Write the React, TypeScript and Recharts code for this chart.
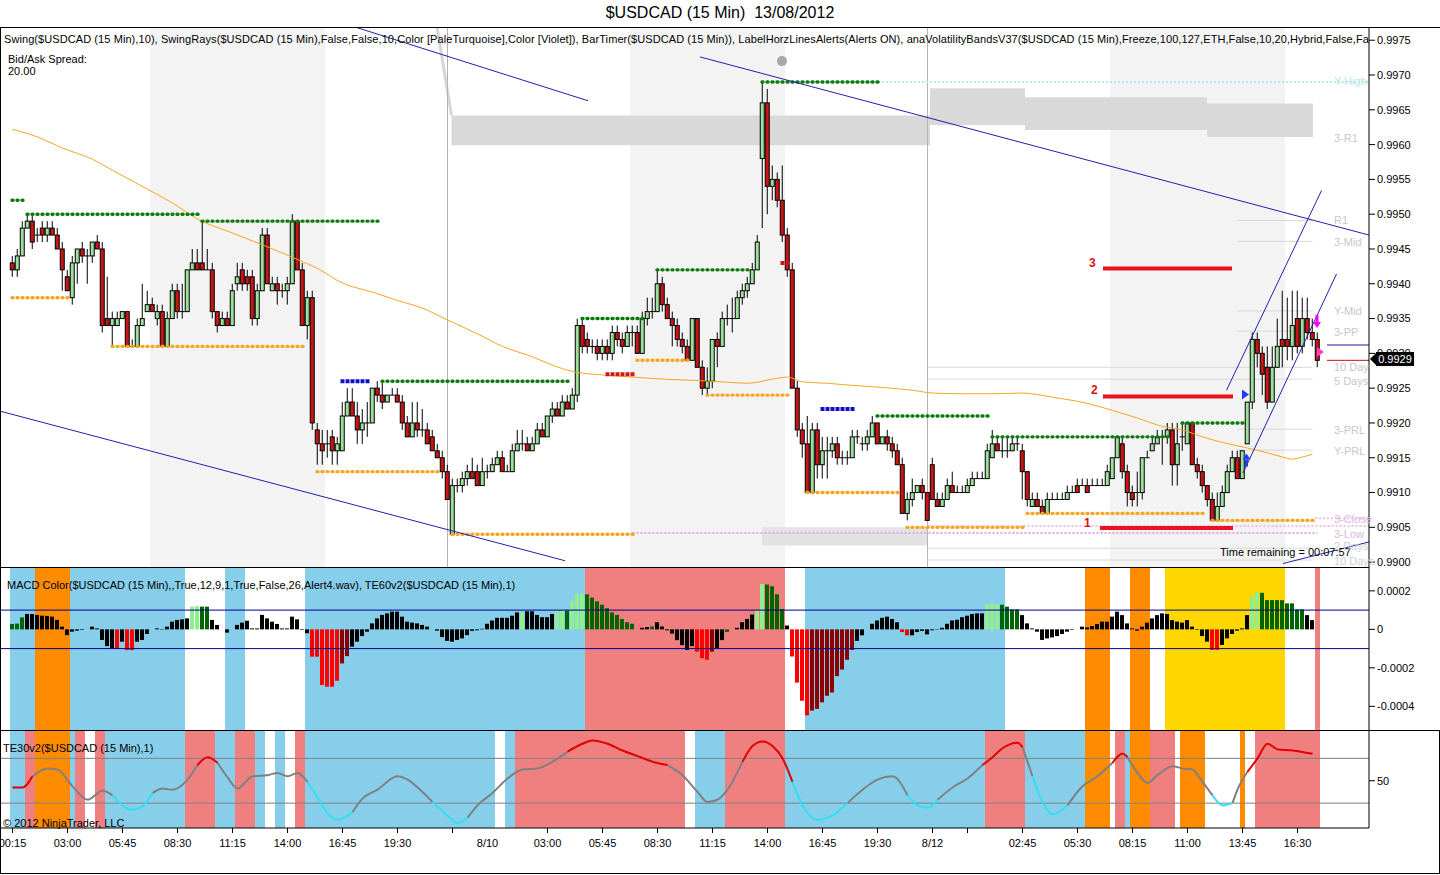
import React from 'react';
import {
  ComposedChart, Bar, Line, XAxis, YAxis, ReferenceArea, ReferenceLine, ReferenceDot, Cell,
} from 'recharts';

const FONT = '"Liberation Sans", Arial, Helvetica, sans-serif';

// ---------- x axis (bar index) ----------
const X_DOMAIN = [-2.5, 271.3];
const xTicks = [0, 11, 22, 33, 44, 55, 66, 77, 88, 95, 107, 118, 129, 140, 151, 162, 173, 184, 191, 202, 213, 224, 235, 246, 257];
const xTickLabels = ['00:15', '03:00', '05:45', '08:30', '11:15', '14:00', '16:45', '19:30', '', '8/10', '03:00', '05:45', '08:30', '11:15', '14:00', '16:45', '19:30', '8/12', '', '02:45', '05:30', '08:15', '11:00', '13:45', '16:30'];

// ---------- price panel ----------
const PRICE_DOMAIN = [0.98993, 0.99769];
const priceTicks = [0.99, 0.9905, 0.991, 0.9915, 0.992, 0.9925, 0.993, 0.9935, 0.994, 0.9945, 0.995, 0.9955, 0.996, 0.9965, 0.997, 0.9975];

const opens = [
  0.9943, 0.9942, 0.9944, 0.9948, 0.9949, 0.9947, 0.9948, 0.9947, 0.9948, 0.9947,
  0.9945, 0.9941, 0.9938, 0.9943, 0.9945, 0.9944, 0.9944, 0.9946, 0.9945, 0.9935,
  0.9934, 0.9934, 0.9935, 0.9936, 0.9931, 0.9931, 0.9934, 0.9936, 0.9937, 0.9935,
  0.9936, 0.9931, 0.9935, 0.9939, 0.9936, 0.9936, 0.9942, 0.9943, 0.9943, 0.9942,
  0.9942, 0.9936, 0.9934, 0.9935, 0.9934, 0.9940, 0.9942, 0.9941, 0.9941, 0.9935,
  0.9939, 0.9947, 0.9939, 0.9940, 0.9939, 0.9939, 0.9940, 0.9949, 0.9942, 0.9934,
  0.9938, 0.9919, 0.9917, 0.9917, 0.9918, 0.9916, 0.9916, 0.9921, 0.9923, 0.9921,
  0.9919, 0.9920, 0.9920, 0.9925, 0.9924, 0.9923, 0.9924, 0.9924, 0.9923, 0.9920,
  0.9918, 0.9920, 0.9919, 0.9919, 0.9918, 0.9916, 0.9915, 0.9913, 0.9904, 0.9911,
  0.9911, 0.9912, 0.9913, 0.9913, 0.9911, 0.9913, 0.9913, 0.9914, 0.9915, 0.9913,
  0.9913, 0.9916, 0.9917, 0.9917, 0.9916, 0.9917, 0.9919, 0.9918, 0.9921, 0.9922,
  0.9921, 0.9923, 0.9922, 0.9924, 0.9934, 0.9932, 0.9931, 0.9931, 0.9930, 0.9931,
  0.9930, 0.9933, 0.9932, 0.9931, 0.9933, 0.9933, 0.9930, 0.9935, 0.9936, 0.9936,
  0.9940, 0.9937, 0.9935, 0.9934, 0.9932, 0.9931, 0.9929, 0.9935, 0.9928, 0.9925,
  0.9926, 0.9932, 0.9931, 0.9935, 0.9935, 0.9935, 0.9938, 0.9939, 0.9940, 0.9942,
  0.9958, 0.9966, 0.9954, 0.9955, 0.9952, 0.9947, 0.9942, 0.9925, 0.9919, 0.9917,
  0.9910, 0.9919, 0.9914, 0.9916, 0.9916, 0.9917, 0.9915, 0.9915, 0.9915, 0.9918,
  0.9917, 0.9917, 0.9918, 0.9920, 0.9917, 0.9918, 0.9917, 0.9916, 0.9914, 0.9907,
  0.9909, 0.9910, 0.9911, 0.9910, 0.9914, 0.9909, 0.9908, 0.9909, 0.9911, 0.9910,
  0.9910, 0.9910, 0.9911, 0.9912, 0.9912, 0.9912, 0.9915, 0.9917, 0.9916, 0.9916,
  0.9916, 0.9917, 0.9916, 0.9913, 0.9908, 0.9909, 0.9908, 0.9907, 0.9909, 0.9909,
  0.9909, 0.9909, 0.9910, 0.9911, 0.9911, 0.9911, 0.9911, 0.9911, 0.9911, 0.9911,
  0.9912, 0.9915, 0.9917, 0.9913, 0.9910, 0.9910, 0.9910, 0.9915, 0.9916, 0.9917,
  0.9918, 0.9918, 0.9919, 0.9914, 0.9918, 0.9917, 0.9920, 0.9914, 0.9913, 0.9911,
  0.9909, 0.9906, 0.9908, 0.9910, 0.9913, 0.9915, 0.9912, 0.9917, 0.9923, 0.9932,
  0.9930, 0.9928, 0.9923, 0.9928, 0.9932, 0.9932, 0.9931, 0.9935, 0.9931, 0.9935,
  0.9933, 0.9932,
];
const highs = [
  0.9944, 0.9945, 0.9949, 0.9950, 0.9950, 0.9948, 0.9949, 0.9949, 0.9949, 0.9948,
  0.9946, 0.9942, 0.9944, 0.9945, 0.9946, 0.9945, 0.9946, 0.9947, 0.9946, 0.9941,
  0.9936, 0.9936, 0.9936, 0.9936, 0.9932, 0.9935, 0.9940, 0.9939, 0.9938, 0.9937,
  0.9937, 0.9936, 0.9940, 0.9940, 0.9940, 0.9942, 0.9945, 0.9945, 0.9949, 0.9945,
  0.9943, 0.9936, 0.9936, 0.9936, 0.9940, 0.9943, 0.9943, 0.9942, 0.9942, 0.9940,
  0.9948, 0.9948, 0.9941, 0.9941, 0.9940, 0.9941, 0.9950, 0.9949, 0.9943, 0.9939,
  0.9939, 0.9920, 0.9919, 0.9919, 0.9919, 0.9918, 0.9923, 0.9925, 0.9925, 0.9923,
  0.9922, 0.9923, 0.9925, 0.9926, 0.9926, 0.9924, 0.9925, 0.9925, 0.9924, 0.9921,
  0.9923, 0.9923, 0.9922, 0.9920, 0.9919, 0.9917, 0.9916, 0.9914, 0.9912, 0.9912,
  0.9913, 0.9914, 0.9915, 0.9914, 0.9915, 0.9914, 0.9915, 0.9916, 0.9916, 0.9914,
  0.9917, 0.9919, 0.9919, 0.9918, 0.9918, 0.9920, 0.9920, 0.9921, 0.9923, 0.9923,
  0.9924, 0.9924, 0.9925, 0.9935, 0.9935, 0.9933, 0.9932, 0.9932, 0.9932, 0.9932,
  0.9934, 0.9934, 0.9933, 0.9934, 0.9934, 0.9934, 0.9936, 0.9938, 0.9938, 0.9942,
  0.9941, 0.9938, 0.9936, 0.9935, 0.9933, 0.9932, 0.9935, 0.9935, 0.9929, 0.9928,
  0.9932, 0.9933, 0.9936, 0.9937, 0.9938, 0.9939, 0.9940, 0.9941, 0.9943, 0.9947,
  0.9969, 0.9968, 0.9957, 0.9956, 0.9957, 0.9948, 0.9943, 0.9926, 0.9920, 0.9921,
  0.9920, 0.9920, 0.9918, 0.9918, 0.9918, 0.9918, 0.9916, 0.9916, 0.9919, 0.9919,
  0.9918, 0.9919, 0.9921, 0.9920, 0.9918, 0.9919, 0.9918, 0.9917, 0.9915, 0.9910,
  0.9912, 0.9911, 0.9912, 0.9910, 0.9915, 0.9910, 0.9910, 0.9912, 0.9913, 0.9911,
  0.9911, 0.9912, 0.9913, 0.9913, 0.9913, 0.9917, 0.9919, 0.9918, 0.9918, 0.9918,
  0.9918, 0.9918, 0.9917, 0.9913, 0.9910, 0.9910, 0.9909, 0.9910, 0.9910, 0.9910,
  0.9910, 0.9911, 0.9911, 0.9912, 0.9912, 0.9912, 0.9912, 0.9912, 0.9912, 0.9914,
  0.9915, 0.9918, 0.9918, 0.9914, 0.9911, 0.9913, 0.9915, 0.9916, 0.9918, 0.9919,
  0.9919, 0.9920, 0.9920, 0.9920, 0.9920, 0.9920, 0.9920, 0.9915, 0.9914, 0.9911,
  0.9910, 0.9910, 0.9911, 0.9914, 0.9916, 0.9916, 0.9916, 0.9923, 0.9933, 0.9933,
  0.9931, 0.9931, 0.9931, 0.9935, 0.9939, 0.9938, 0.9939, 0.9939, 0.9938, 0.9938,
  0.9935, 0.9933,
];
const lows = [
  0.9941, 0.9941, 0.9944, 0.9948, 0.9945, 0.9946, 0.9946, 0.9946, 0.9947, 0.9945,
  0.9939, 0.9939, 0.9937, 0.9940, 0.9943, 0.9940, 0.9943, 0.9945, 0.9933, 0.9934,
  0.9931, 0.9934, 0.9935, 0.9931, 0.9931, 0.9931, 0.9934, 0.9936, 0.9936, 0.9934,
  0.9931, 0.9931, 0.9935, 0.9935, 0.9935, 0.9936, 0.9942, 0.9942, 0.9942, 0.9942,
  0.9935, 0.9933, 0.9934, 0.9934, 0.9934, 0.9939, 0.9939, 0.9939, 0.9934, 0.9934,
  0.9939, 0.9940, 0.9939, 0.9937, 0.9938, 0.9937, 0.9940, 0.9942, 0.9934, 0.9932,
  0.9919, 0.9914, 0.9914, 0.9915, 0.9914, 0.9914, 0.9916, 0.9921, 0.9921, 0.9917,
  0.9917, 0.9918, 0.9920, 0.9923, 0.9922, 0.9923, 0.9924, 0.9923, 0.9919, 0.9918,
  0.9918, 0.9918, 0.9918, 0.9917, 0.9916, 0.9915, 0.9912, 0.9909, 0.9904, 0.9910,
  0.9910, 0.9911, 0.9912, 0.9911, 0.9911, 0.9912, 0.9913, 0.9914, 0.9913, 0.9913,
  0.9913, 0.9916, 0.9916, 0.9916, 0.9916, 0.9917, 0.9918, 0.9918, 0.9920, 0.9921,
  0.9921, 0.9922, 0.9922, 0.9923, 0.9930, 0.9930, 0.9930, 0.9929, 0.9929, 0.9929,
  0.9929, 0.9931, 0.9930, 0.9931, 0.9931, 0.9930, 0.9930, 0.9934, 0.9935, 0.9936,
  0.9936, 0.9935, 0.9931, 0.9931, 0.9930, 0.9929, 0.9929, 0.9928, 0.9924, 0.9924,
  0.9925, 0.9928, 0.9931, 0.9934, 0.9933, 0.9935, 0.9937, 0.9938, 0.9940, 0.9942,
  0.9948, 0.9950, 0.9952, 0.9951, 0.9946, 0.9941, 0.9925, 0.9918, 0.9915, 0.9910,
  0.9910, 0.9912, 0.9912, 0.9912, 0.9915, 0.9914, 0.9914, 0.9914, 0.9915, 0.9917,
  0.9916, 0.9916, 0.9918, 0.9917, 0.9917, 0.9916, 0.9915, 0.9914, 0.9907, 0.9906,
  0.9908, 0.9910, 0.9909, 0.9906, 0.9909, 0.9908, 0.9908, 0.9909, 0.9910, 0.9910,
  0.9910, 0.9910, 0.9911, 0.9912, 0.9912, 0.9912, 0.9915, 0.9916, 0.9915, 0.9915,
  0.9916, 0.9916, 0.9909, 0.9908, 0.9908, 0.9908, 0.9907, 0.9907, 0.9909, 0.9909,
  0.9909, 0.9909, 0.9910, 0.9910, 0.9911, 0.9910, 0.9911, 0.9911, 0.9911, 0.9911,
  0.9912, 0.9915, 0.9912, 0.9908, 0.9908, 0.9908, 0.9909, 0.9915, 0.9916, 0.9917,
  0.9914, 0.9917, 0.9911, 0.9911, 0.9916, 0.9917, 0.9914, 0.9912, 0.9910, 0.9908,
  0.9906, 0.9906, 0.9908, 0.9910, 0.9913, 0.9912, 0.9912, 0.9917, 0.9922, 0.9928,
  0.9924, 0.9922, 0.9923, 0.9928, 0.9928, 0.9929, 0.9929, 0.9930, 0.9930, 0.9932,
  0.9931, 0.9928,
];
const closes = [
  0.9942, 0.9944, 0.9948, 0.9949, 0.9946, 0.9947, 0.9947, 0.9948, 0.9947, 0.9945,
  0.9942, 0.9939, 0.9943, 0.9945, 0.9944, 0.9944, 0.9946, 0.9945, 0.9934, 0.9934,
  0.9935, 0.9935, 0.9936, 0.9931, 0.9931, 0.9934, 0.9935, 0.9937, 0.9936, 0.9936,
  0.9931, 0.9935, 0.9939, 0.9936, 0.9936, 0.9942, 0.9943, 0.9942, 0.9942, 0.9942,
  0.9936, 0.9934, 0.9935, 0.9934, 0.9939, 0.9941, 0.9940, 0.9940, 0.9935, 0.9939,
  0.9947, 0.9940, 0.9940, 0.9939, 0.9939, 0.9940, 0.9949, 0.9942, 0.9934, 0.9938,
  0.9920, 0.9917, 0.9916, 0.9917, 0.9916, 0.9917, 0.9921, 0.9923, 0.9921, 0.9919,
  0.9920, 0.9920, 0.9925, 0.9924, 0.9923, 0.9924, 0.9924, 0.9923, 0.9920, 0.9918,
  0.9920, 0.9919, 0.9919, 0.9917, 0.9916, 0.9915, 0.9913, 0.9909, 0.9911, 0.9911,
  0.9912, 0.9913, 0.9912, 0.9911, 0.9913, 0.9913, 0.9914, 0.9915, 0.9913, 0.9913,
  0.9916, 0.9917, 0.9917, 0.9916, 0.9917, 0.9919, 0.9918, 0.9921, 0.9922, 0.9921,
  0.9923, 0.9922, 0.9924, 0.9934, 0.9931, 0.9931, 0.9931, 0.9930, 0.9931, 0.9930,
  0.9933, 0.9932, 0.9931, 0.9933, 0.9933, 0.9930, 0.9935, 0.9936, 0.9936, 0.9940,
  0.9937, 0.9935, 0.9934, 0.9932, 0.9931, 0.9929, 0.9935, 0.9928, 0.9925, 0.9926,
  0.9932, 0.9931, 0.9935, 0.9935, 0.9935, 0.9938, 0.9939, 0.9940, 0.9942, 0.9946,
  0.9966, 0.9954, 0.9955, 0.9952, 0.9947, 0.9942, 0.9925, 0.9919, 0.9917, 0.9910,
  0.9919, 0.9914, 0.9916, 0.9916, 0.9917, 0.9915, 0.9915, 0.9915, 0.9918, 0.9918,
  0.9917, 0.9918, 0.9920, 0.9917, 0.9918, 0.9917, 0.9916, 0.9914, 0.9907, 0.9909,
  0.9910, 0.9911, 0.9910, 0.9906, 0.9909, 0.9908, 0.9909, 0.9911, 0.9910, 0.9910,
  0.9910, 0.9911, 0.9912, 0.9912, 0.9912, 0.9916, 0.9917, 0.9916, 0.9916, 0.9916,
  0.9917, 0.9917, 0.9913, 0.9909, 0.9909, 0.9908, 0.9907, 0.9909, 0.9909, 0.9909,
  0.9909, 0.9910, 0.9910, 0.9910, 0.9911, 0.9910, 0.9911, 0.9911, 0.9911, 0.9913,
  0.9915, 0.9918, 0.9913, 0.9910, 0.9909, 0.9910, 0.9915, 0.9915, 0.9917, 0.9918,
  0.9918, 0.9919, 0.9914, 0.9917, 0.9918, 0.9920, 0.9914, 0.9913, 0.9911, 0.9909,
  0.9906, 0.9908, 0.9910, 0.9913, 0.9915, 0.9912, 0.9916, 0.9923, 0.9932, 0.9930,
  0.9927, 0.9923, 0.9928, 0.9931, 0.9931, 0.9931, 0.9934, 0.9931, 0.9935, 0.9933,
  0.9932, 0.9929,
];

// moving average (orange), sampled along the curve
const smaBars = [0, 5, 10, 16, 20, 27, 32, 37, 44, 51, 57, 61, 66, 72, 77, 82, 87, 93, 98, 104, 108, 112, 118, 124, 130, 137, 142, 147, 152, 155, 158, 163, 168, 174, 180, 184, 190, 196, 202, 208, 215, 220, 225, 230, 234, 238, 242, 247, 251, 254, 256, 258, 260];
const smaValues = [0.99622, 0.99611, 0.99595, 0.99579, 0.99563, 0.99536, 0.99516, 0.99493, 0.99473, 0.99453, 0.99435, 0.99422, 0.99401, 0.99388, 0.99376, 0.99365, 0.99348, 0.99328, 0.9931, 0.99295, 0.99283, 0.99274, 0.99269, 0.99266, 0.99263, 0.99261, 0.99259, 0.99257, 0.99263, 0.99266, 0.99259, 0.99257, 0.99254, 0.99251, 0.99247, 0.99243, 0.99242, 0.99242, 0.99243, 0.99237, 0.99228, 0.99218, 0.99207, 0.99195, 0.9919, 0.9918, 0.99172, 0.99164, 0.99157, 0.99151, 0.99148, 0.99151, 0.99155];

// swing rays: [startBar, endBar, price]
const swingHighs = [[0, 2, 0.9952], [3, 37, 0.995], [38, 73, 0.9949], [74, 111, 0.9926], [114, 126, 0.9935], [129, 147, 0.9942], [150, 173, 0.9969], [173, 195, 0.9921], [196, 231, 0.9918], [234, 246, 0.992]];
const swingLows = [[0, 11, 0.9938], [20, 58, 0.9931], [61, 85, 0.9913], [88, 124, 0.9904], [125, 135, 0.9929], [139, 155, 0.9924], [159, 177, 0.991], [179, 202, 0.9905], [203, 238, 0.9907], [240, 260, 0.9906]];
const blueMarks = [[66, 71, 0.9926], [162, 168, 0.9922]];
const redMarks = [[119, 124, 0.9927], [154, 155, 0.9943]];

// trend / channel lines: [x1, y1, x2, y2]
const trendLines = [
  [-2.5, 0.99217, 110.5, 0.99002],
  [68.5, 0.99769, 115.1, 0.99663],
  [137.5, 0.99726, 271.3, 0.9947],
  [242.8, 0.99247, 261.8, 0.99534],
  [246.1, 0.99128, 264.8, 0.99414],
  [254.1, 0.98998, 271.3, 0.99029],
];
// numbered red levels: [x1, x2, price]
const redLevels = [[218.1, 243.9, 0.99422], [218.1, 244.1, 0.99238], [217.5, 244.1, 0.99049]];
// faint pivot lines: [x1, x2, price]
const pivotLines = [[244.9, 260, 0.99491], [244.9, 260, 0.99461], [244.9, 260, 0.99361], [244.9, 260, 0.99332], [183, 260, 0.9928], [183, 260, 0.99263], [244.9, 260, 0.99191], [244.9, 260, 0.99161], [183, 260, 0.9902], [183, 260, 0.99003]];
const sessionShades = [[27.5, 62.5], [123.5, 154.5], [219.5, 254.5]];
// volatility band boxes: [x1, x2, low, high]
const volBands = [[87.8, 183.5, 0.99599, 0.99642], [183.5, 202.5, 0.99628, 0.99681], [202.5, 238.9, 0.99621, 0.99668], [238.9, 260.1, 0.99611, 0.99659], [149.9, 183, 0.99024, 0.9905]];
const dateLines = [87, 183];

// ---------- MACD panel ----------
const MACD_DOMAIN = [-0.000523, 0.000324];
const macdTicks = [-0.0004, -0.0002, 0, 0.0002];
const macdValues = [
  28e-6, 30e-6, 62e-6, 80e-6, 80e-6, 75e-6, 71e-6, 70e-6, 66e-6, 49e-6,
  14e-6, -30e-6, -12e-6, -7e-6, -3e-6, 0, 14e-6, 5e-6, -55e-6, -87e-6,
  -100e-6, -100e-6, -64e-6, -108e-6, -108e-6, -64e-6, -55e-6, -24e-6, 0, 5e-6,
  -2e-6, 14e-6, 40e-6, 49e-6, 52e-6, 57e-6, 118e-6, 120e-6, 118e-6, 118e-6,
  49e-6, 23e-6, 0, -17e-6, 0, 23e-6, 35e-6, 45e-6, 5e-6, 5e-6,
  75e-6, 57e-6, 40e-6, 28e-6, 5e-6, 5e-6, 66e-6, 52e-6, -3e-6, -20e-6,
  -142e-6, -142e-6, -289e-6, -298e-6, -298e-6, -267e-6, -177e-6, -139e-6, -90e-6, -64e-6,
  -35e-6, -12e-6, 31e-6, 57e-6, 75e-6, 83e-6, 92e-6, 92e-6, 66e-6, 40e-6,
  35e-6, 31e-6, 23e-6, 14e-6, 0, -7e-6, -40e-6, -60e-6, -64e-6, -55e-6,
  -47e-6, -30e-6, -8e-6, -5e-6, 3e-6, 29e-6, 46e-6, 60e-6, 60e-6, 60e-6,
  71e-6, 88e-6, 88e-6, 94e-6, 94e-6, 75e-6, 63e-6, 63e-6, 80e-6, 94e-6,
  94e-6, 97e-6, 150e-6, 185e-6, 185e-6, 182e-6, 165e-6, 145e-6, 128e-6, 110e-6,
  88e-6, 75e-6, 54e-6, 37e-6, 29e-6, 0, 8e-6, 12e-6, 15e-6, 37e-6,
  15e-6, -5e-6, -22e-6, -56e-6, -82e-6, -107e-6, -87e-6, -116e-6, -150e-6, -158e-6,
  -116e-6, -99e-6, -56e-6, -14e-6, 0, 8e-6, 37e-6, 54e-6, 77e-6, 100e-6,
  236e-6, 233e-6, 224e-6, 182e-6, 105e-6, 20e-6, -141e-6, -277e-6, -371e-6, -447e-6,
  -422e-6, -413e-6, -379e-6, -345e-6, -328e-6, -243e-6, -209e-6, -158e-6, -107e-6, -60e-6,
  -31e-6, 0, 29e-6, 46e-6, 60e-6, 66e-6, 54e-6, 37e-6, -14e-6, -31e-6,
  -31e-6, -14e-6, -8e-6, -26e-6, -5e-6, -2e-6, 8e-6, 29e-6, 46e-6, 50e-6,
  63e-6, 71e-6, 80e-6, 83e-6, 83e-6, 131e-6, 131e-6, 131e-6, 128e-6, 118e-6,
  104e-6, 104e-6, 74e-6, 31e-6, 5e-6, -12e-6, -55e-6, -47e-6, -42e-6, -35e-6,
  -24e-6, -12e-6, -3e-6, 0, 14e-6, 10e-6, 17e-6, 28e-6, 40e-6, 40e-6,
  66e-6, 92e-6, 74e-6, 31e-6, 5e-6, -7e-6, 14e-6, 35e-6, 57e-6, 74e-6,
  83e-6, 80e-6, 48e-6, 40e-6, 35e-6, 48e-6, 14e-6, -3e-6, -35e-6, -64e-6,
  -107e-6, -107e-6, -81e-6, -47e-6, -24e-6, -7e-6, 5e-6, 74e-6, 170e-6, 195e-6,
  190e-6, 152e-6, 152e-6, 152e-6, 152e-6, 135e-6, 135e-6, 104e-6, 104e-6, 74e-6,
  48e-6, 0,
];
const macdColorCodes =
  'gggkkkkkkk' + 'kkkkkkkkkk' + 'krkrrkkkkk' + 'kkkkkkllgg' + 'kkkkkkkkkk' +
  'kkkkkkkkkk' + 'rrrrrrddkk' + 'kkkkkkkkkk' + 'kkkkkkkkkk' + 'kkkkkkkkkk' +
  'kklkkkkkkl' + 'lglllggggg' + 'gggggkkkgk' + 'kkkkkkkrrr' + 'dkkgkkkkkl' +
  'lggggkrrrr' + 'dddddddddk' + 'kkkkkkkkrr' + 'kkkkkkkkkk' + 'kkkkklllgg' +
  'ggkkkkkkkk' + 'kkkkkkkkkk' + 'kkkkkkkkkk' + 'kkkkkkkkkk' + 'rrkkkkkkll' +
  'gggggggggk' + 'kk';
const MACD_COLORS = { k: '#000000', g: '#006400', l: '#90EE90', r: '#FF0000', d: '#8B0000' };
// background bands of the MACD panel: [x1, x2, color]
const macdBands = [
  [-0.5, 4.5, '#87CEEB'], [4.5, 11.5, '#FF8C00'], [11.5, 34.5, '#87CEEB'], [42.5, 46.5, '#87CEEB'],
  [58.5, 114.5, '#87CEEB'], [114.5, 154.5, '#F08080'], [158.5, 198.5, '#87CEEB'], [214.5, 219.5, '#FF8C00'],
  [223.5, 227.5, '#FF8C00'], [230.5, 254.5, '#FFD700'], [260.5, 261.5, '#F08080'],
];

// ---------- TE30 panel ----------
const TE_DOMAIN = [7.8, 95.3];
const teBars = [0, 2, 4, 7, 9, 12, 15, 18, 20, 22, 24, 26, 28, 30, 32, 35, 37, 39, 41, 43, 45, 48, 51, 53, 55, 57, 59, 61, 63, 65, 68, 70, 73, 77, 79, 82, 84, 87, 89, 91, 93, 96, 99, 102, 105, 108, 111, 114, 116, 119, 122, 125, 128, 131, 134, 137, 139, 141, 143, 146, 148, 150, 152, 154, 156, 158, 161, 164, 167, 170, 173, 176, 179, 181, 183, 185, 188, 191, 194, 196, 198, 201, 202, 204, 206, 208, 211, 214, 217, 220, 222, 223, 225, 227, 229, 232, 234, 236, 238, 240, 242, 244, 245, 247, 249, 251, 253, 256, 260];
const teValues = [44, 44, 54, 61, 60, 45, 33, 41, 37, 28, 24, 27, 39, 43, 42, 51, 64, 71, 66, 53, 43, 54, 55, 57, 54, 57, 49, 35, 21, 15, 22, 34, 42, 54, 51, 40, 31, 19, 12, 17, 28, 39, 52, 60, 61, 67, 76, 83, 86, 83, 77, 72, 67, 64, 55, 40, 31, 33, 42, 67, 81, 85, 81, 70, 49, 28, 15, 19, 30, 42, 51, 54, 37, 28, 26, 33, 44, 52, 64, 71, 79, 84, 80, 54, 31, 20, 28, 45, 54, 66, 74, 71, 57, 48, 55, 63, 61, 60, 49, 37, 28, 30, 42, 58, 70, 83, 78, 77, 74];
const teRedRanges = [[0, 4], [37, 41], [112, 131], [147, 155], [194, 202], [220, 223], [248, 260]];
const teCyanRanges = [[21, 27], [60, 68], [84, 91], [157, 167], [180, 184], [205, 211], [241, 244]];
const teBands = [
  [-0.5, 2.5, '#87CEEB'], [2.5, 4.5, '#F08080'], [4.5, 11.5, '#FF8C00'], [11.5, 12.5, '#87CEEB'],
  [12.5, 14.5, '#F08080'], [16.5, 18.5, '#F08080'], [18.5, 34.5, '#87CEEB'], [34.5, 40.5, '#F08080'],
  [40.5, 44.5, '#87CEEB'], [44.5, 48.5, '#F08080'], [48.5, 50.5, '#87CEEB'], [52.5, 54.5, '#87CEEB'],
  [56.5, 58.5, '#F08080'], [58.5, 96.5, '#87CEEB'], [98.5, 100.5, '#87CEEB'], [100.5, 134.5, '#F08080'],
  [136.5, 142.5, '#87CEEB'], [142.5, 154.5, '#F08080'], [154.5, 194.5, '#87CEEB'], [194.5, 202.5, '#F08080'],
  [202.5, 214.5, '#87CEEB'], [214.5, 219.5, '#FF8C00'], [220.5, 222.5, '#F08080'], [222.5, 223.5, '#87CEEB'],
  [223.5, 227.5, '#FF8C00'], [227.5, 232.5, '#F08080'], [233.5, 238.5, '#FF8C00'], [245.5, 246.5, '#FF8C00'],
  [248.5, 261.5, '#F08080'],
];

// ---------- derived tables ----------
const smaByBar = new Map(smaBars.map((b, k) => [b, smaValues[k]]));
const priceRows = opens.map((o, i) => ({
  i, o, h: highs[i], l: lows[i], c: closes[i],
  range: [lows[i], highs[i]],
  sma: smaByBar.has(i) ? smaByBar.get(i) : null,
}));
const macdRows = macdValues.map((m, i) => ({ i, m }));

const inRanges = (v, ranges) => ranges.some(([a, b]) => v >= a && v <= b);
const segColor = (k) => {
  const mid = (teBars[k] + teBars[k + 1]) / 2;
  if (inRanges(mid, teRedRanges)) return 'red';
  if (inRanges(mid, teCyanRanges)) return 'cyan';
  return 'gray';
};
const teRows = teBars.map((b, k) => {
  const prev = k > 0 ? segColor(k - 1) : null;
  const next = k < teBars.length - 1 ? segColor(k) : null;
  const v = teValues[k];
  return {
    i: b,
    gray: prev === 'gray' || next === 'gray' ? v : null,
    red: prev === 'red' || next === 'red' ? v : null,
    cyan: prev === 'cyan' || next === 'cyan' ? v : null,
  };
});

// ---------- shapes ----------
function Candle(props) {
  const { x, y, width, height, payload } = props;
  if (x == null || y == null || !payload) return null;
  const { o, h, l, c } = payload;
  const top = Math.min(y, y + height);
  const span = Math.abs(height);
  const cx = x + width / 2;
  const rng = h - l;
  const py = (v) => (rng > 0 ? top + ((h - v) / rng) * span : top);
  const yo = py(o);
  const yc = py(c);
  const bTop = Math.min(yo, yc);
  const bH = Math.abs(yo - yc);
  return (
    <g>
      <line x1={cx} x2={cx} y1={top} y2={top + span} stroke="#000" strokeWidth={1} />
      {bH < 0.5 ? (
        <line x1={cx - 2.5} x2={cx + 2.5} y1={yo} y2={yo} stroke="#000" strokeWidth={1} />
      ) : (
        <rect x={cx - 2} y={bTop} width={4} height={bH} fill={c > o ? '#9CE09C' : '#C81414'} stroke="#000" strokeWidth={1} />
      )}
    </g>
  );
}

function XTick(props) {
  const { x, y, payload } = props;
  const idx = xTicks.indexOf(payload.value);
  const label = idx >= 0 ? xTickLabels[idx] : '';
  return (
    <g>
      {label !== '8/10' && <line x1={x} x2={x} y1={y} y2={y + 5} stroke="#000" />}
      <text x={x} y={y + 19} textAnchor="middle" fontSize={11} fontFamily={FONT} fill="#000">{label}</text>
    </g>
  );
}

const tickStyle = { fontSize: 11, fill: '#000', fontFamily: FONT };

function Txt({ x, y, size = 11, color = '#000', bold = false, children, spacing }) {
  return (
    <div style={{
      position: 'absolute', left: x, top: y - size / 2 - 1, fontSize: size, lineHeight: `${size + 2}px`,
      color, fontWeight: bold ? 'bold' : 'normal', fontFamily: FONT, whiteSpace: 'nowrap', letterSpacing: spacing,
    }}>{children}</div>
  );
}

const HLine = ({ x, y, w }) => <div style={{ position: 'absolute', left: x, top: y, width: w, height: 1, background: '#000' }} />;
const VLine = ({ x, y, h }) => <div style={{ position: 'absolute', left: x, top: y, width: 1, height: h, background: '#000' }} />;

const triRight = (color) => (p) => <polygon points={`${p.cx - 3},${p.cy - 5} ${p.cx + 4},${p.cy} ${p.cx - 3},${p.cy + 5}`} fill={color} />;
const arrowUp = (color) => (p) => (
  <g>
    <polygon points={`${p.cx},${p.cy - 7} ${p.cx + 4},${p.cy - 1} ${p.cx - 4},${p.cy - 1}`} fill={color} />
    <rect x={p.cx - 1.5} y={p.cy - 1} width={3} height={7} fill={color} />
  </g>
);
const arrowDown = (color) => (p) => (
  <g>
    <rect x={p.cx - 1.5} y={p.cy - 7} width={3} height={7} fill={color} />
    <polygon points={`${p.cx},${p.cy + 6} ${p.cx + 4},${p.cy} ${p.cx - 4},${p.cy}`} fill={color} />
  </g>
);

const abs = (top, h) => ({ position: 'absolute', left: 0, top, width: 1440, height: h });

export default function App() {
  const xAxisHidden = <XAxis dataKey="i" type="number" domain={X_DOMAIN} hide allowDataOverflow />;
  return (
    <div style={{ position: 'absolute', left: 0, top: 0, width: 1440, height: 875, background: '#fff', overflow: 'hidden', fontFamily: FONT }}>
      {/* ===== price panel background ===== */}
      <div style={abs(27, 540)}>
        <ComposedChart width={1440} height={540} data={priceRows} margin={{ top: 0, right: 71, bottom: 0, left: 0 }}>
          {xAxisHidden}
          <YAxis type="number" domain={PRICE_DOMAIN} hide allowDataOverflow />
          {sessionShades.map(([a, b], k) => (
            <ReferenceArea key={`s${k}`} x1={a} x2={b} fill="#F3F3F3" fillOpacity={1} stroke="none" ifOverflow="hidden" />
          ))}
          {volBands.map(([a, b, lo, hi], k) => (
            <ReferenceArea key={`v${k}`} x1={a} x2={b} y1={lo} y2={hi} fill={k === 4 ? '#E2E2E2' : '#D9D9D9'} fillOpacity={1} stroke="none" ifOverflow="hidden" />
          ))}
          <ReferenceLine segment={[{ x: 84.9, y: 0.99769 }, { x: 87.8, y: 0.99642 }]} stroke="#D6D6D6" strokeWidth={3} ifOverflow="visible" />
          {dateLines.map((d) => <ReferenceLine key={`d${d}`} x={d} stroke="#B4B4B4" strokeWidth={1} />)}
          {pivotLines.map(([a, b, p], k) => (
            <ReferenceLine key={`p${k}`} segment={[{ x: a, y: p }, { x: b, y: p }]} stroke="#D8D8D8" strokeWidth={1} ifOverflow="visible" />
          ))}
          <ReferenceLine segment={[{ x: 151.5, y: 0.9969 }, { x: 271.3, y: 0.9969 }]} stroke="#AFEEEE" strokeWidth={2} strokeDasharray="2 2" ifOverflow="visible" />
          <ReferenceLine segment={[{ x: 124, y: 0.99042 }, { x: 261, y: 0.99042 }]} stroke="#E6A6E6" strokeWidth={2} strokeDasharray="2 2" ifOverflow="visible" />
          <ReferenceLine segment={[{ x: 183, y: 0.99052 }, { x: 271.3, y: 0.99052 }]} stroke="#EEC0EE" strokeWidth={2} strokeDasharray="2 2" ifOverflow="visible" />
          <ReferenceLine segment={[{ x: 260.5, y: 0.99063 }, { x: 271.3, y: 0.99063 }]} stroke="#EEC0EE" strokeWidth={2} strokeDasharray="2 2" ifOverflow="visible" />
        </ComposedChart>
      </div>

      {/* ===== price panel foreground ===== */}
      <div style={abs(27, 540)}>
        <ComposedChart width={1440} height={540} data={priceRows} margin={{ top: 0, right: 0, bottom: 0, left: 0 }}>
          {xAxisHidden}
          <YAxis orientation="right" type="number" domain={PRICE_DOMAIN} ticks={priceTicks} width={71} allowDataOverflow interval={0}
            tickFormatter={(v) => v.toFixed(4)} tick={tickStyle} tickSize={6} axisLine={{ stroke: '#000' }} tickLine={{ stroke: '#000' }} />
          <Line dataKey="sma" type="monotone" connectNulls dot={false} stroke="#F5A623" strokeWidth={1} isAnimationActive={false} />
          <Bar dataKey="range" barSize={5} isAnimationActive={false} shape={(p) => <Candle {...p} />} />
          {swingHighs.map(([a, b, p], k) => (
            <ReferenceLine key={`gh${k}`} segment={[{ x: a - 0.1, y: p }, { x: b + 0.1, y: p }]} stroke="#0A7A0A" strokeWidth={3.4} strokeDasharray="1 4" strokeLinecap="round" ifOverflow="visible" />
          ))}
          {swingLows.map(([a, b, p], k) => (
            <ReferenceLine key={`ol${k}`} segment={[{ x: a - 0.1, y: p }, { x: b + 0.1, y: p }]} stroke="#F5A623" strokeWidth={3.4} strokeDasharray="1 4" strokeLinecap="round" ifOverflow="visible" />
          ))}
          {blueMarks.map(([a, b, p], k) => (
            <ReferenceLine key={`bm${k}`} segment={[{ x: a - 0.4, y: p }, { x: b + 0.4, y: p }]} stroke="#1010C8" strokeWidth={4} strokeDasharray="4 1" ifOverflow="visible" />
          ))}
          {redMarks.map(([a, b, p], k) => (
            <ReferenceLine key={`rm${k}`} segment={[{ x: a - 0.4, y: p }, { x: b + 0.4, y: p }]} stroke="#D01818" strokeWidth={4} strokeDasharray="4 1" ifOverflow="visible" />
          ))}
          {trendLines.map(([x1, y1, x2, y2], k) => (
            <ReferenceLine key={`t${k}`} segment={[{ x: x1, y: y1 }, { x: x2, y: y2 }]} stroke="#2020B0" strokeWidth={1} ifOverflow="visible" />
          ))}
          {redLevels.map(([a, b, p], k) => (
            <ReferenceLine key={`rl${k}`} segment={[{ x: a, y: p }, { x: b, y: p }]} stroke="#E8141A" strokeWidth={4} ifOverflow="visible" />
          ))}
          <ReferenceLine segment={[{ x: 262.9, y: 0.99312 }, { x: 271.3, y: 0.99312 }]} stroke="#1A1AA0" strokeWidth={1} ifOverflow="visible" />
          <ReferenceLine segment={[{ x: 262.9, y: 0.9929 }, { x: 271.3, y: 0.9929 }]} stroke="#C01010" strokeWidth={1} ifOverflow="visible" />
          <ReferenceDot x={153.9} y={0.9972} r={5} fill="#A8A8A8" stroke="none" ifOverflow="visible" />
          <ReferenceDot x={246.5} y={0.99241} r={4} shape={triRight('#1E3CFF')} ifOverflow="visible" />
          <ReferenceDot x={246.8} y={0.99146} r={4} shape={arrowUp('#1E3CFF')} ifOverflow="visible" />
          <ReferenceDot x={260.9} y={0.99345} r={4} shape={arrowDown('#FF00FF')} ifOverflow="visible" />
          <ReferenceDot x={261.5} y={0.99302} r={4} shape={triRight('#FF40C0')} ifOverflow="visible" />
        </ComposedChart>
      </div>

      {/* ===== MACD panel ===== */}
      <div style={abs(567, 163)}>
        <ComposedChart width={1440} height={163} data={macdRows} margin={{ top: 0, right: 71, bottom: 0, left: 0 }}>
          {xAxisHidden}
          <YAxis type="number" domain={MACD_DOMAIN} hide allowDataOverflow />
          {macdBands.map(([a, b, col], k) => (
            <ReferenceArea key={`mb${k}`} x1={a} x2={b} fill={col} fillOpacity={1} stroke="none" ifOverflow="hidden" />
          ))}
        </ComposedChart>
      </div>
      <div style={abs(567, 163)}>
        <ComposedChart width={1440} height={163} data={macdRows} margin={{ top: 0, right: 0, bottom: 0, left: 0 }}>
          {xAxisHidden}
          <YAxis orientation="right" type="number" domain={MACD_DOMAIN} ticks={macdTicks} width={71} allowDataOverflow interval={0}
            tickFormatter={(v) => (Math.abs(v) < 1e-9 ? '0' : v.toFixed(4))} tick={tickStyle} tickSize={6} axisLine={{ stroke: '#000' }} tickLine={{ stroke: '#000' }} />
          <ReferenceLine y={0.0001} stroke="#00008B" strokeWidth={1} />
          <ReferenceLine y={-0.0001} stroke="#00008B" strokeWidth={1} />
          <Bar dataKey="m" barSize={4} isAnimationActive={false}>
            {macdRows.map((r) => <Cell key={r.i} fill={MACD_COLORS[macdColorCodes[r.i]]} />)}
          </Bar>
        </ComposedChart>
      </div>

      {/* ===== TE30 panel ===== */}
      <div style={abs(730, 143)}>
        <ComposedChart width={1440} height={143} data={teRows} margin={{ top: 0, right: 71, bottom: 45, left: 0 }}>
          {xAxisHidden}
          <YAxis type="number" domain={TE_DOMAIN} hide allowDataOverflow />
          {teBands.map(([a, b, col], k) => (
            <ReferenceArea key={`tb${k}`} x1={a} x2={b} fill={col} fillOpacity={1} stroke="none" ifOverflow="hidden" />
          ))}
        </ComposedChart>
      </div>
      <div style={abs(730, 143)}>
        <ComposedChart width={1440} height={143} data={teRows} margin={{ top: 0, right: 0, bottom: 0, left: 0 }}>
          <XAxis dataKey="i" type="number" domain={X_DOMAIN} allowDataOverflow ticks={xTicks} interval={0} height={45}
            tickLine={false} tickSize={0} tickMargin={0} axisLine={{ stroke: '#000' }} tick={(p) => <XTick {...p} />} />
          <YAxis orientation="right" type="number" domain={TE_DOMAIN} ticks={[50]} width={71} allowDataOverflow interval={0}
            tick={tickStyle} tickSize={6} axisLine={{ stroke: '#000' }} tickLine={{ stroke: '#000' }} />
          <ReferenceLine y={70} stroke="#808080" strokeWidth={1} />
          <ReferenceLine y={30} stroke="#808080" strokeWidth={1} />
          <Line dataKey="gray" type="monotone" dot={false} connectNulls={false} stroke="#808080" strokeWidth={2} isAnimationActive={false} />
          <Line dataKey="red" type="monotone" dot={false} connectNulls={false} stroke="#E00000" strokeWidth={2} isAnimationActive={false} />
          <Line dataKey="cyan" type="monotone" dot={false} connectNulls={false} stroke="#30E0F0" strokeWidth={2} isAnimationActive={false} />
        </ComposedChart>
      </div>

      {/* ===== frame ===== */}
      <HLine x={0} y={27} w={1440} />
      <HLine x={0} y={567} w={1369} />
      <HLine x={0} y={730} w={1440} />
      <HLine x={0} y={873} w={1440} />
      <VLine x={0} y={27} h={847} />
      <VLine x={1439} y={730} h={144} />

      {/* ===== texts ===== */}
      <div style={{ position: 'absolute', left: 0, top: 4, width: 1440, textAlign: 'center', fontSize: 16, fontFamily: FONT, color: '#000' }}>
        $USDCAD (15 Min)&nbsp;&nbsp;13/08/2012
      </div>
      <Txt x={4} y={39} spacing="0.08px">
        Swing($USDCAD (15 Min),10), SwingRays($USDCAD (15 Min),False,False,10,Color [PaleTurquoise],Color [Violet]), BarTimer($USDCAD (15 Min)), LabelHorzLinesAlerts(Alerts ON), anaVolatilityBandsV37($USDCAD (15 Min),Freeze,100,127,ETH,False,10,20,Hybrid,False,Fa
      </Txt>
      <Txt x={8} y={59}>Bid/Ask Spread:</Txt>
      <Txt x={8} y={71}>20.00</Txt>
      <Txt x={1220} y={552}>Time remaining = 00:07:57</Txt>
      <Txt x={1089} y={263} size={12} bold color="#E01010">3</Txt>
      <Txt x={1091} y={390} size={12} bold color="#E01010">2</Txt>
      <Txt x={1084} y={523} size={12} bold color="#E01010">1</Txt>
      {[['Y-High', 81, '#B8E8E8'], ['3-R1', 138, '#C8C8C8'], ['R1', 220, '#C8C8C8'], ['3-Mid', 242, '#C8C8C8'], ['Y-Mid', 311, '#C8C8C8'],
        ['3-PP', 332, '#C8C8C8'], ['10 Day', 367, '#C8C8C8'], ['5 Days', 381, '#C8C8C8'], ['3-PRL', 430, '#C8C8C8'], ['Y-PRL', 451, '#C8C8C8'],
        ['3-Close', 519, '#E0B8E0'], ['3-Low', 534, '#E0B8E0'], ['2 Days', 546, '#D0D0D0'], ['10 Days', 561, '#D0D0D0']].map(([t, y, col]) => (
        <Txt key={`lbl${t}${y}`} x={1334} y={y} color={col}>{t}</Txt>
      ))}
      <Txt x={7} y={585}>MACD Color($USDCAD (15 Min),,True,12,9,1,True,False,26,Alert4.wav), TE60v2($USDCAD (15 Min),1)</Txt>
      <Txt x={3} y={748}>TE30v2($USDCAD (15 Min),1)</Txt>
      <Txt x={3} y={823}>© 2012 NinjaTrader, LLC</Txt>

      {/* last price tag */}
      <div style={{ position: 'absolute', left: 1370, top: 352, width: 0, height: 0, borderTop: '7px solid transparent', borderBottom: '7px solid transparent', borderRight: '7px solid #000' }} />
      <div style={{ position: 'absolute', left: 1376, top: 352, width: 38, height: 14, background: '#000', color: '#fff', fontSize: 11, lineHeight: '14px', fontFamily: FONT, textAlign: 'center' }}>0.9929</div>
    </div>
  );
}
